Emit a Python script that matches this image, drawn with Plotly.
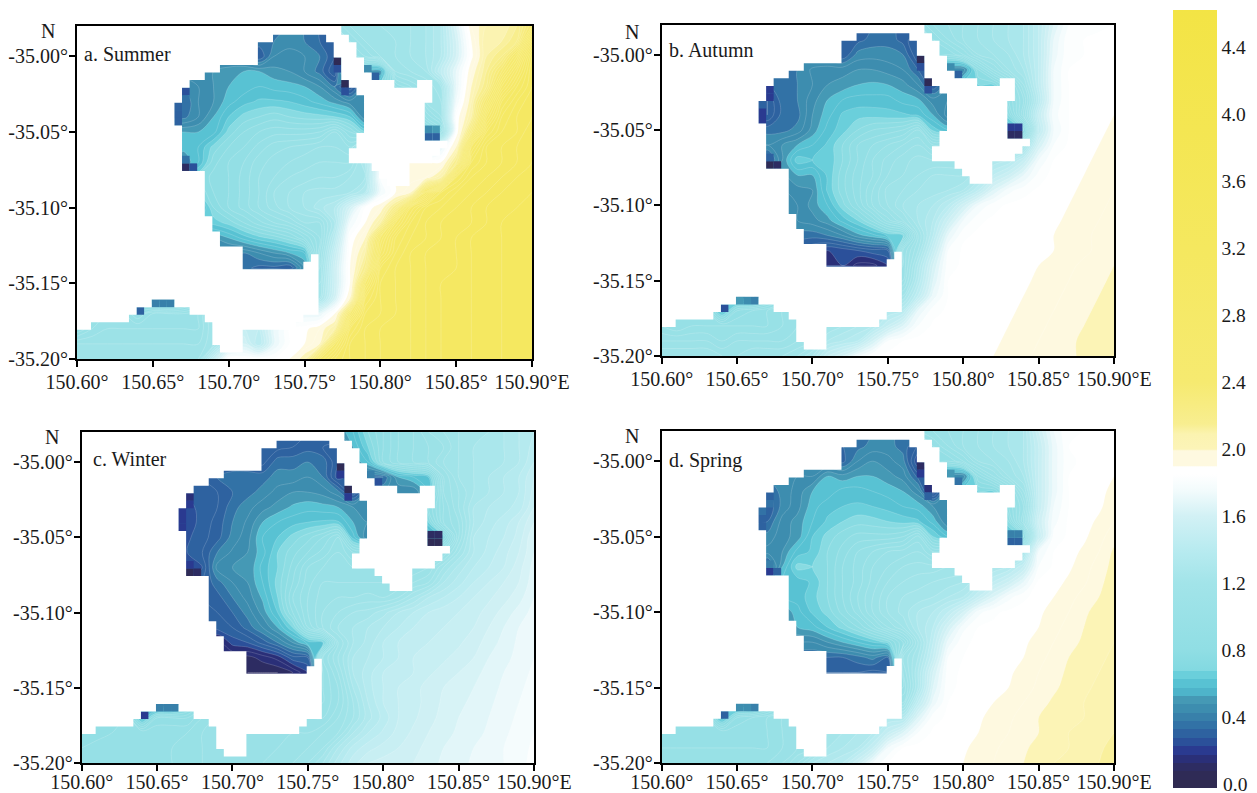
import plotly.graph_objects as go

W, H = 1249, 785   # page adds an 8 px body margin; total view is 1257x793
OFF = 8

lons = [round(150.60 + 0.01 * i, 2) for i in range(31)]
lats = [round(-34.98 - 0.01 * j, 2) for j in range(23)]

summer = [
[110,110,110,110,100,90,80,70,60,50,45,40,38,38,40,40,35,100,110,115,115,120,120,125,135,165,195,205,205,215,240],
[110,110,110,110,100,90,80,60,50,45,40,38,38,40,42,40,35,30,100,110,115,115,120,125,135,160,190,210,210,220,270],
[110,110,110,100,90,80,70,50,48,48,45,40,30,45,48,45,40,30,90,100,110,115,120,125,135,160,188,210,220,250,295],
[110,110,100,90,80,70,60,48,48,50,52,55,55,52,50,45,38,25,90,55,50,110,115,120,145,170,195,215,240,270,300],
[110,100,90,80,70,60,50,42,45,50,55,57,60,58,57,55,50,40,25,50,70,90,100,110,120,170,200,220,260,285,300],
[100,90,80,70,60,50,40,35,45,50,58,63,66,66,65,62,58,53,47,45,60,60,60,110,115,175,205,240,280,295,305],
[100,90,80,70,60,50,40,38,45,55,65,72,75,78,75,73,72,70,65,45,70,70,70,95,110,185,210,260,290,300,305],
[100,90,80,70,60,55,55,55,55,58,72,80,85,88,88,88,90,100,85,70,70,70,70,70,90,185,230,280,295,300,310],
[100,90,80,75,70,65,60,57,60,72,80,85,92,98,100,102,105,105,100,130,150,150,150,150,170,200,270,295,300,305,310],
[100,90,85,80,75,70,65,50,60,78,85,90,98,102,105,108,110,110,110,130,170,190,190,190,190,220,285,295,300,305,310],
[100,95,90,85,80,75,70,70,75,82,85,92,100,105,110,112,115,115,120,125,180,190,192,195,210,280,295,300,305,310,310],
[100,95,90,85,80,75,70,70,70,80,85,92,100,110,115,120,122,122,125,135,175,190,200,250,285,295,300,305,310,310,315],
[100,95,90,85,80,75,70,60,55,75,85,92,100,108,115,120,128,135,160,185,195,220,270,290,295,300,305,310,310,315,315],
[100,95,90,85,80,75,70,65,65,67,72,80,88,95,100,110,110,130,175,190,210,260,285,295,300,300,305,310,315,315,315],
[100,95,90,85,80,70,60,55,50,50,55,62,68,72,78,90,105,140,185,200,250,280,290,295,300,305,310,310,315,315,315],
[100,95,90,85,80,70,60,50,45,45,42,40,45,50,55,60,110,150,188,210,260,285,295,300,300,305,310,310,315,315,315],
[100,95,90,85,75,65,55,45,40,40,38,37,33,33,30,50,115,155,190,220,280,290,295,300,300,305,310,310,315,315,315],
[100,95,90,80,70,60,55,50,50,60,70,80,90,100,110,120,120,155,190,250,285,290,295,300,305,305,310,310,315,315,315],
[100,95,90,80,70,50,45,60,80,100,120,130,140,140,130,125,125,160,200,270,285,290,295,300,305,305,310,310,315,315,315],
[100,100,100,100,90,100,100,100,105,120,130,140,150,160,170,170,170,190,240,280,285,290,295,300,305,305,310,310,315,315,315],
[90,100,105,105,105,105,105,105,105,120,140,150,145,170,185,188,195,210,270,285,290,290,295,300,305,305,310,310,315,315,315],
[110,110,110,110,110,110,110,110,110,120,150,160,140,170,185,190,200,250,280,285,290,290,295,300,305,305,310,310,315,315,315],
[115,115,115,115,115,115,115,115,115,150,185,185,185,185,190,205,250,270,280,285,290,290,295,300,305,305,310,310,315,315,315],
]

autumn = [
[110,110,110,110,100,90,80,70,50,40,35,33,33,33,35,38,33,90,100,105,110,115,120,125,130,145,165,180,182,184,185],
[110,110,110,110,100,90,80,50,40,35,33,33,33,33,37,38,33,25,90,100,110,115,120,125,130,145,170,184,185,186,187],
[110,110,110,100,90,80,60,40,38,38,38,35,30,42,43,42,40,25,90,85,95,110,115,120,130,145,172,184,185,186,187],
[110,110,100,90,80,60,45,38,38,40,46,48,48,50,50,48,45,35,30,45,45,80,100,115,125,145,175,185,186,187,188],
[110,100,90,80,60,45,38,35,38,40,45,50,52,55,56,55,52,45,30,45,70,70,70,90,115,145,175,185,186,187,188],
[100,90,80,60,50,38,30,25,38,40,48,55,60,62,62,62,58,56,47,45,60,60,60,85,105,140,175,185,186,187,189],
[100,90,80,60,50,38,30,25,37,38,50,58,66,68,68,67,66,64,55,42,60,60,60,75,110,150,178,185,186,188,190],
[100,90,80,60,50,45,40,38,38,42,52,62,68,75,80,82,85,95,68,60,60,60,60,55,75,145,175,185,187,189,191],
[100,90,80,70,60,50,48,45,50,55,60,66,75,85,90,95,100,105,95,100,100,100,100,100,120,160,180,186,188,190,192],
[100,90,80,70,60,50,45,30,50,68,65,66,75,85,95,102,108,112,110,110,110,120,130,135,150,175,185,187,189,191,193],
[100,90,80,70,60,50,50,50,50,55,55,66,78,88,95,105,110,115,120,120,120,130,145,155,170,182,187,188,190,192,194],
[100,90,80,70,60,50,50,50,45,48,50,66,78,88,100,112,115,120,122,125,130,145,165,178,183,186,188,189,191,193,195],
[100,90,80,70,60,50,45,40,38,45,52,60,73,85,100,110,120,125,130,140,158,175,183,186,187,187,188,190,192,194,196],
[100,90,80,70,60,50,45,42,42,45,48,53,62,70,82,98,110,125,135,155,175,184,186,187,187,188,189,191,193,195,197],
[100,90,80,70,60,50,45,40,40,38,37,40,45,53,58,66,70,115,140,170,184,186,186,187,187,188,190,192,194,196,198],
[100,90,80,70,60,50,45,40,35,30,25,20,22,25,28,30,100,120,150,180,186,186,187,187,187,188,190,192,194,196,199],
[100,90,80,70,60,50,45,35,30,25,20,20,20,13,13,20,100,130,160,183,186,186,187,187,188,190,192,194,196,198,200],
[100,90,80,70,60,50,45,45,50,60,70,80,90,100,105,105,105,135,165,185,186,187,187,187,189,191,193,195,197,199,201],
[100,95,90,80,70,48,42,60,80,95,110,115,120,120,120,120,120,145,172,185,186,187,187,187,190,192,194,196,198,200,202],
[95,95,95,90,60,85,90,95,100,105,110,115,120,125,130,135,140,170,183,186,187,187,187,189,191,193,195,197,199,201,203],
[95,90,95,95,95,95,95,95,100,105,110,120,125,130,135,150,165,180,186,187,187,187,188,190,192,194,196,198,200,202,204],
[105,105,105,105,100,105,105,105,105,110,115,130,135,140,160,180,185,187,187,187,187,188,189,191,193,195,197,199,201,203,205],
[115,115,115,115,110,110,115,115,115,120,130,150,160,175,185,187,187,187,187,187,187,188,190,192,194,196,198,199,201,203,205],
]

winter = [
[80,80,80,80,80,80,80,80,80,70,40,30,30,30,30,30,40,50,60,75,85,95,100,110,115,120,125,125,130,135,140],
[80,80,80,80,80,80,80,50,40,35,30,30,28,28,30,33,30,25,55,70,85,95,100,105,110,120,125,130,130,135,142],
[80,80,80,80,70,60,50,35,30,30,30,30,28,38,38,40,38,25,50,60,85,95,100,105,115,120,125,130,130,135,145],
[80,80,80,70,60,50,40,30,30,35,38,38,38,42,42,45,40,22,30,35,35,55,60,65,105,120,125,130,135,140,150],
[80,80,70,60,50,40,30,28,28,30,35,38,42,47,50,50,48,42,25,45,45,45,45,60,105,115,125,130,135,140,152],
[80,80,60,50,40,30,25,22,28,30,38,43,48,52,56,58,57,55,50,48,50,50,50,80,100,115,130,135,138,142,155],
[80,70,50,40,30,25,22,22,27,32,40,46,55,60,63,65,66,66,55,50,50,50,50,70,100,110,130,138,142,150,160],
[80,70,50,40,30,25,24,24,28,33,42,48,60,65,72,78,85,95,62,45,40,40,40,50,70,110,135,140,145,152,165],
[80,70,50,40,30,28,25,25,30,40,46,50,58,70,78,85,92,100,90,90,90,90,90,90,100,120,135,142,148,155,165],
[80,70,50,40,35,30,25,20,25,47,50,50,62,70,82,95,100,105,100,100,100,100,100,105,120,132,140,145,150,158,167],
[80,70,50,40,35,30,28,28,30,38,45,50,60,72,85,98,105,105,105,105,105,105,110,115,130,138,145,150,155,160,168],
[80,70,50,40,35,30,28,28,30,33,40,47,56,70,90,100,108,110,110,112,110,115,125,135,140,145,150,154,158,163,170],
[80,70,50,40,35,30,28,28,27,30,35,42,52,65,85,100,110,115,120,122,128,135,140,145,148,150,153,157,162,167,172],
[80,70,50,40,35,30,26,24,22,27,30,37,45,55,70,95,110,120,125,130,135,140,145,148,150,152,155,160,165,170,173],
[80,70,50,40,35,30,24,20,20,12,22,25,32,40,50,62,65,110,125,132,140,145,148,150,152,154,158,162,167,171,174],
[80,70,50,40,35,30,22,15,12,10,10,8,12,17,28,30,100,115,130,135,140,145,150,152,154,157,160,165,168,172,175],
[80,70,50,40,35,30,25,15,10,8,6,5,5,5,10,20,95,110,130,138,145,148,150,154,157,160,163,167,170,173,176],
[80,70,50,40,35,35,35,35,40,60,70,80,85,90,92,95,95,105,125,138,145,150,153,157,160,163,165,168,171,174,177],
[80,80,70,55,50,40,42,60,80,90,90,90,90,90,92,95,95,105,120,135,145,150,153,157,161,164,166,169,172,175,178],
[90,90,90,90,60,85,85,85,95,100,100,100,100,100,100,100,100,110,120,133,142,150,154,158,162,165,167,170,173,176,179],
[85,88,90,92,95,95,95,95,100,105,105,105,105,105,105,105,110,115,130,140,146,152,156,160,163,166,168,171,174,177,180],
[90,92,93,95,95,95,95,97,100,102,105,105,105,105,108,110,115,130,142,148,152,155,158,162,165,168,170,172,175,178,181],
[92,93,95,95,95,95,95,97,100,102,105,105,105,108,110,115,125,138,148,155,157,158,160,163,166,168,171,173,175,178,182],
]

spring = [
[110,110,110,110,100,90,80,70,50,45,40,38,38,38,40,42,38,95,100,105,110,115,120,125,130,155,175,185,185,187,188],
[110,110,110,110,100,90,80,55,45,40,38,38,35,38,42,42,38,30,90,100,110,115,120,125,130,150,172,185,186,187,188],
[110,110,110,100,90,80,60,45,42,42,42,38,33,45,50,47,42,20,85,85,95,110,115,120,130,150,172,184,186,187,189],
[110,110,100,90,80,60,50,42,42,45,45,55,52,55,55,52,48,33,30,45,45,85,100,115,125,150,172,185,186,187,190],
[110,100,90,80,60,50,42,35,42,47,55,57,62,62,60,58,55,47,20,50,70,70,70,90,115,150,172,185,187,189,191],
[100,90,80,60,50,42,35,30,42,48,58,63,65,66,65,63,60,58,50,48,60,60,60,85,105,150,175,185,187,189,193],
[100,90,80,60,50,42,35,35,47,52,60,66,70,73,72,70,68,66,58,45,60,60,60,75,110,155,178,186,188,191,195],
[100,90,80,60,50,45,42,42,48,52,65,72,78,82,82,82,85,97,70,60,60,60,60,60,75,150,182,186,189,193,198],
[100,90,80,70,60,52,48,47,50,62,66,75,82,90,95,100,102,105,95,100,100,100,100,100,125,175,185,188,191,195,201],
[100,90,80,70,60,52,48,30,55,72,70,75,85,92,100,105,110,112,112,115,115,120,130,135,150,180,186,189,193,197,202],
[100,90,80,70,60,55,55,55,62,62,66,75,85,92,102,110,115,118,120,122,125,135,145,155,170,186,188,191,194,199,202],
[100,90,80,70,60,55,55,55,60,62,68,75,85,95,105,115,120,122,125,130,135,150,165,178,184,187,190,193,197,200,203],
[100,90,80,70,60,55,50,50,50,58,66,72,82,92,105,115,122,130,135,145,160,178,184,186,187,189,192,195,199,202,204],
[100,90,80,70,60,55,50,50,50,55,58,65,72,80,92,105,115,130,140,160,178,185,186,187,188,190,193,197,200,203,204],
[100,90,80,70,60,50,48,46,45,45,45,50,55,60,65,72,90,120,145,172,184,186,186,187,189,192,195,198,201,203,205],
[100,90,80,70,60,50,46,42,38,36,35,35,35,38,42,35,110,125,150,180,185,186,187,188,190,193,197,200,202,204,206],
[100,90,80,70,60,50,46,40,36,32,30,30,30,30,28,30,105,130,160,183,186,187,187,189,192,195,198,201,203,205,207],
[100,90,80,70,60,50,46,46,50,60,70,80,90,100,105,105,100,130,165,184,186,187,188,190,193,196,199,202,204,206,207],
[100,95,90,80,70,45,42,60,80,95,110,115,120,120,120,120,110,145,172,185,186,187,190,193,195,198,201,203,205,206,208],
[95,95,95,90,60,85,90,95,100,105,110,115,120,125,130,135,135,165,183,186,187,189,192,194,197,200,202,204,205,207,209],
[95,90,95,95,95,95,95,95,100,105,110,120,125,130,135,150,165,180,186,187,187,190,193,195,198,200,203,205,206,208,210],
[95,95,95,95,95,95,95,95,100,105,110,125,130,135,150,175,185,187,187,187,189,192,194,197,199,202,204,205,207,209,212],
[100,100,100,100,100,100,100,100,105,115,130,135,140,155,175,185,187,187,187,187,190,193,195,198,200,203,205,206,208,210,215],
]

spots_summer = [(34,4,3),(34,5,25),(35,7,3),(35,8,25),(14,8,25),(14,9,35),(13,10,30),(13,11,30),(13,12,30),(14,18,10),(15,18,25),(14,17,35),(46,13,45),(47,13,50),(46,14,30),(47,14,30),(10,36,42),(11,36,42),(12,36,40),(8,37,30),(39,6,30),(38,5,45)]
spots_autumn = [(34,4,3),(34,5,25),(35,7,3),(35,8,25),(14,8,20),(14,9,20),(13,10,28),(13,11,22),(13,12,22),(14,18,5),(15,18,12),(14,17,30),(46,13,22),(47,13,22),(46,14,12),(47,14,12),(10,36,48),(11,36,45),(12,36,40),(8,37,25),(39,6,32),(38,5,45)]
spots_winter = [(34,4,3),(34,5,20),(35,7,3),(35,8,20),(14,8,15),(14,9,18),(13,10,22),(13,11,22),(13,12,22),(14,18,5),(15,18,8),(14,17,20),(46,13,10),(47,13,12),(46,14,5),(47,14,5),(10,36,38),(11,36,38),(12,36,38),(8,37,22),(39,6,25),(38,5,38)]
spots_spring = [(34,4,12),(34,5,20),(35,7,15),(35,8,30),(14,8,30),(14,9,35),(13,10,35),(13,11,32),(13,12,32),(14,18,20),(15,18,30),(14,17,38),(46,13,38),(47,13,42),(46,14,32),(47,14,32),(10,36,45),(11,36,45),(12,36,40),(8,37,32),(39,6,35),(38,5,48)]

water_rows = [
"35-60","26-33 36-60","24-34 37-60","24-34 37-60","24-35 38-60","19-35 38-60","17-35 39-60",
"15-36 42-45 47-60","14-37 47-60","14-38 47-60","13-38 46-60","13-38 46-60","13-38 46-60",
"14-38 46-60","14-37 46-60","14-37 49-60","14-36 48-60","14-36 47-60","14-39 44-60","17-40 44-60",
"17-41 44-60","17-60","17-60","17-60","17-60","18-60","18-60","19-60","19-60","22-60",
"22-31 32-60","22-30 32-60","32-60","32-60","32-60","32-60","10-13 32-60","8-15 32-60",
"7-17 30-60","2-18 29-60","0-18 22-60","0-18 22-60","0-19 22-60","0-60",
]

tick_x = [150.60, 150.65, 150.70, 150.75, 150.80, 150.85, 150.90]
tick_x_text = ["150.60°", "150.65°", "150.70°", "150.75°", "150.80°", "150.85°", "150.90°E"]
tick_y = [-35.00, -35.05, -35.10, -35.15, -35.20]
tick_y_text = ["-35.00°", "-35.05°", "-35.10°", "-35.15°", "-35.20°"]
legend_last_label = "0.0"

# stepped at the dark end, as the reference legend is
stops = [
(-0.025,"#2f2a50"),(0.025,"#2f2a50"),(0.025,"#2f2b56"),(0.075,"#2f2b56"),(0.075,"#2d2c62"),(0.125,"#2d2c62"),
(0.125,"#2a2f78"),(0.175,"#2a2f78"),(0.175,"#2a3a90"),(0.225,"#2a3a90"),(0.225,"#2b509a"),(0.275,"#2b509a"),
(0.275,"#2e62a0"),(0.325,"#2e62a0"),(0.325,"#3272a6"),(0.375,"#3272a6"),(0.375,"#3880aa"),(0.425,"#3880aa"),
(0.425,"#3d8daf"),(0.475,"#3d8daf"),(0.475,"#4599b5"),(0.525,"#4599b5"),(0.525,"#4eb4ca"),(0.575,"#4eb4ca"),
(0.575,"#58c2d3"),(0.625,"#58c2d3"),(0.625,"#6acfdb"),(0.675,"#6acfdb"),(0.675,"#82d9e1"),
(0.8,"#90dee4"),(1.2,"#a2e4e9"),(1.4,"#b8ebf0"),(1.6,"#d2f1f5"),(1.75,"#f2fbfc"),(1.85,"#ffffff"),(1.895,"#ffffff"),
(1.9,"#fef9e0"),(1.99,"#fef9e0"),(2.0,"#fcf4b8"),(2.09,"#fbf3b0"),(2.15,"#f8ee90"),
(2.4,"#f6ea70"),(3.2,"#f5e85f"),(4.625,"#f3e445"),
]
ZMIN, ZMAX = -0.025, 4.625
colorscale = [[round((v - ZMIN) / (ZMAX - ZMIN), 6), c] for v, c in stops]

def color_at(v):
    for (a, ca), (b, cb) in zip(stops, stops[1:]):
        if a <= v < b:
            t = (v - a) / (b - a)
            rgb = [round(int(ca[k:k+2], 16) * (1 - t) + int(cb[k:k+2], 16) * t) for k in (1, 3, 5)]
            return "rgb(%d,%d,%d)" % tuple(rgb)
    return stops[-1][1]

def cell_x(k):
    return max(150.60, 150.60 + 0.005 * (k - 0.15))

def cell_y(r):
    return -34.98 if r <= 0 else -34.98075 - 0.005 * r

def rect(x0, x1, y0, y1):
    return [x0, x1, x1, x0, x0, None], [y0, y0, y1, y1, y0, None]

land_x, land_y = [], []
for r, spec in enumerate(water_rows):
    prev = 0
    spans = [tuple(int(p) for p in s.split("-")) for s in spec.split()]
    for a, b in spans + [(60, 60)]:
        if a > prev:
            x, y = rect(cell_x(prev), cell_x(a), cell_y(r), max(-35.2, cell_y(r + 1)))
            land_x += x
            land_y += y
        prev = b

panels = [
    ("a. Summer", summer, spots_summer, 77, 532, 26, 359, 82, 54, 48, 31, -2),
    ("b. Autumn", autumn, spots_autumn, 661.7, 1114, 24.5, 356, 667, 50, 632, 32, -2),
    ("c. Winter", winter, spots_winter, 81.7, 534, 432, 763, 91, 459, 52, 437, -6),
    ("d. Spring", spring, spots_spring, 661.7, 1114, 431, 763, 667, 460, 632, 436, -6),
]

def px(v):
    return (v - OFF) / W

def py(v):
    return 1 - (v - OFF) / H

FONT = "Liberation Serif"
fig = go.Figure()
# carries the continuous legend; it sits beneath the field of panel a, which covers it
fig.add_trace(go.Heatmap(
    x=[150.60, 150.90], y=[-35.20, -34.98], z=[[1, 1], [1, 1]],
    colorscale=colorscale, zmin=ZMIN, zmax=ZMAX, hoverinfo="skip", xaxis="x", yaxis="y", showscale=True,
    colorbar=dict(
        x=px(1173), xanchor="left", xref="paper", y=py(10), yanchor="top", yref="paper",
        len=778 / H, lenmode="fraction", thickness=44, thicknessmode="pixels", outlinewidth=0,
        tick0=0, dtick=0.4, tickformat=".1f", ticks="", xpad=0, ypad=0,
        tickfont=dict(family=FONT, size=19.5, color="#1a1a1a"),
    ),
))
annotations = [dict(text=legend_last_label, x=px(1221), y=py(784), xref="paper", yref="paper", showarrow=False,
                    xanchor="left", yanchor="middle", font=dict(family=FONT, size=19.5, color="#1a1a1a"))]
layout = {}
for n, (label, field, spots, l, r, t, b, lx, ly, nx, ny, standoff) in enumerate(panels, start=1):
    assert len(field) == len(lats) and all(len(row) == len(lons) for row in field), label
    xa, ya = ("x", "y") if n == 1 else (f"x{n}", f"y{n}")
    fig.add_trace(go.Contour(
        x=lons, y=lats, z=[[v / 100 for v in row] for row in field],
        colorscale=colorscale, zmin=ZMIN, zmax=ZMAX, showscale=False, xaxis=xa, yaxis=ya,
        contours=dict(start=0, end=4.6, size=0.05, coloring="fill"),
        line=dict(color="rgba(255,255,255,0.35)", width=0.5),
        hoverinfo="skip",
    ))
    for k, row, val in spots:
        x, y = rect(cell_x(k), cell_x(k + 1), cell_y(row), cell_y(row + 1))
        fig.add_trace(go.Scatter(x=x, y=y, mode="lines", fill="toself", fillcolor=color_at(val / 100),
                                 line=dict(width=0), xaxis=xa, yaxis=ya, showlegend=False, hoverinfo="skip"))
    fig.add_trace(go.Scatter(x=land_x, y=land_y, mode="lines", fill="toself", fillcolor="#ffffff",
                             line=dict(width=0), xaxis=xa, yaxis=ya, showlegend=False, hoverinfo="skip"))
    suffix = "" if n == 1 else str(n)
    common = dict(showgrid=False, zeroline=False, showline=True, mirror=True, linecolor="#000000", linewidth=2,
                  ticks="outside", ticklen=6, tickwidth=2, tickcolor="#000000",
                  tickfont=dict(family=FONT, size=20, color="#1a1a1a"))
    layout["xaxis" + suffix] = dict(common, domain=[px(l), px(r)], range=[150.60, 150.90], anchor=ya,
                                    tickvals=tick_x, ticktext=tick_x_text, tickangle=0, ticklabelstandoff=standoff)
    layout["yaxis" + suffix] = dict(common, domain=[py(b), py(t)], range=[-35.20, -34.98], anchor=xa,
                                    tickvals=tick_y, ticktext=tick_y_text, ticklabelstandoff=-3)
    annotations.append(dict(text=label, x=px(lx), y=py(ly), xref="paper", yref="paper", showarrow=False,
                            xanchor="left", yanchor="middle", font=dict(family=FONT, size=20, color="#1a1a1a")))
    annotations.append(dict(text="N", x=px(nx), y=py(ny), xref="paper", yref="paper", showarrow=False,
                            xanchor="center", yanchor="middle", font=dict(family=FONT, size=20, color="#1a1a1a")))

fig.update_layout(
    width=W, height=H, margin=dict(l=0, r=0, t=0, b=0, autoexpand=False), showlegend=False,
    paper_bgcolor="#ffffff", plot_bgcolor="#ffffff", annotations=annotations,
    **layout,
)
fig.write_html("out.html")
